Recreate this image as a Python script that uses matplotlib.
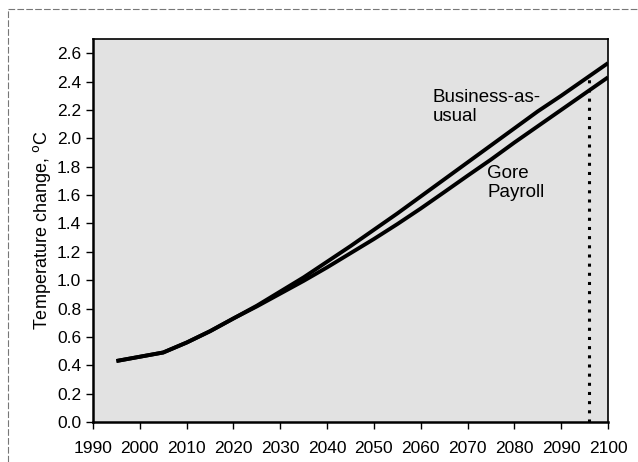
"""Temperature change: business-as-usual vs Gore payroll scenario."""

import matplotlib
matplotlib.use("Agg")
import matplotlib.pyplot as plt
from matplotlib.lines import Line2D

plt.rcParams["font.family"] = ["Liberation Sans", "DejaVu Sans"]

years = [1995, 2000, 2005, 2010, 2015, 2020, 2025, 2030, 2035, 2040, 2045,
         2050, 2055, 2060, 2065, 2070, 2075, 2080, 2085, 2090, 2095, 2100]
bau = [0.43, 0.46, 0.49, 0.56, 0.64, 0.73, 0.82, 0.92, 1.02, 1.13, 1.24,
       1.355, 1.47, 1.59, 1.71, 1.83, 1.95, 2.07, 2.19, 2.30, 2.415, 2.53]
gore = [0.43, 0.46, 0.49, 0.56, 0.64, 0.73, 0.815, 0.905, 0.995, 1.09, 1.19,
        1.29, 1.395, 1.505, 1.62, 1.736, 1.85, 1.97, 2.085, 2.20, 2.315, 2.43]

# year at which BAU reaches the Gore 2100 level
marker_year = 2096
marker_level = 2.43

fig = plt.figure(figsize=(6.38, 4.62), dpi=100)
ax = fig.add_axes([0.1458, 0.0866, 0.8072, 0.829])
ax.set_facecolor("#e2e2e2")

ax.plot(years, bau, color="black", lw=2.8, solid_capstyle="butt")
ax.plot(years, gore, color="black", lw=2.8, solid_capstyle="butt")
ax.plot([marker_year, marker_year], [0, marker_level], color="black",
        lw=2.2, linestyle=(0, (1, 2)))

ax.text(2062.5, 2.35, "Business-as-\nusual", fontsize=13.5, va="top",
        ha="left", linespacing=1.15)
ax.text(2074.2, 1.81, "Gore\nPayroll", fontsize=13.5, va="top", ha="left",
        linespacing=1.15)

ax.set_xlim(1990, 2100)
ax.set_ylim(0, 2.7)
ax.set_xticks(range(1990, 2101, 10))
ax.set_yticks([i * 0.2 for i in range(14)])
ax.set_yticklabels([f"{i * 0.2:.1f}" for i in range(14)])
ax.tick_params(labelsize=12.5, direction="out", length=5, width=1,
               colors="black")
ax.tick_params(axis="x", pad=9)
ax.set_ylabel("Temperature change, $^\\mathrm{o}$C", fontsize=13,
              labelpad=3)

for side in ["left", "bottom"]:
    ax.spines[side].set_linewidth(1.8)
for side in ["top", "right"]:
    ax.spines[side].set_linewidth(1.2)

# outer chart frame (scan shows top and left edges only)
fig.add_artist(Line2D([8 / 638, 1], [1 - 9 / 462] * 2, color="#777777",
                      lw=0.8, linestyle=(0, (6, 2))))
fig.add_artist(Line2D([8 / 638] * 2, [0, 1 - 9 / 462], color="#777777",
                      lw=0.8, linestyle=(0, (6, 2))))

fig.savefig("out.png", dpi=100)
